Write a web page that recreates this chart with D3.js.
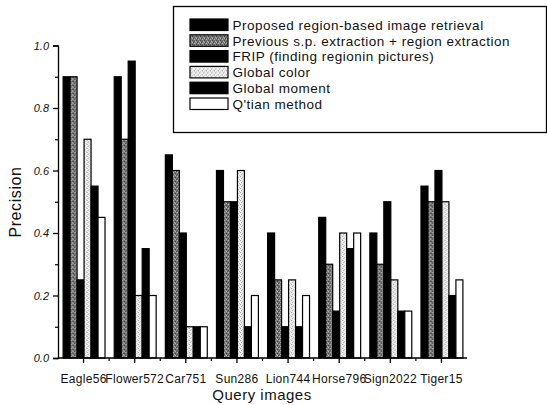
<!DOCTYPE html>
<html>
<head>
<meta charset="utf-8">
<script src="https://cdn.jsdelivr.net/npm/d3@7"></script>
<style>
  html, body { margin: 0; padding: 0; background: #fff; }
  svg { display: block; font-family: "Liberation Sans", Arial, sans-serif; }
</style>
</head>
<body>
<svg id="chart" width="547" height="405"></svg>
<script>
const categories = ["Eagle56", "Flower572", "Car751", "Sun286", "Lion744", "Horse796", "Sign2022", "Tiger15"];
const seriesNames = [
  "Proposed region-based image retrieval",
  "Previous s.p. extraction + region extraction",
  "FRIP (finding regionin pictures)",
  "Global color",
  "Global moment",
  "Q'tian method"
];
const proposed      = [0.90, 0.90, 0.65, 0.60, 0.40, 0.45, 0.40, 0.55];
const previous      = [0.90, 0.70, 0.60, 0.50, 0.25, 0.30, 0.30, 0.50];
const frip          = [0.25, 0.95, 0.40, 0.50, 0.10, 0.15, 0.50, 0.60];
const globalColor   = [0.70, 0.20, 0.10, 0.60, 0.25, 0.40, 0.25, 0.50];
const globalMoment  = [0.55, 0.35, 0.10, 0.10, 0.10, 0.35, 0.15, 0.20];
const qtian         = [0.45, 0.20, 0.10, 0.20, 0.20, 0.40, 0.15, 0.25];
const yTicks = [0.0, 0.2, 0.4, 0.6, 0.8, 1.0];
const yMinorTicks = [0.1, 0.3, 0.5, 0.7, 0.9];

const seriesValues = [proposed, previous, frip, globalColor, globalMoment, qtian];
const fills = ["#000", "url(#patPrev)", "#000", "url(#patColor)", "#000", "#fff"];

const svg = d3.select("#chart");
const defs = svg.append("defs");

// dark stipple pattern
const p1 = defs.append("pattern").attr("id", "patPrev").attr("patternUnits", "userSpaceOnUse")
  .attr("width", 4).attr("height", 4);
p1.append("rect").attr("width", 4).attr("height", 4).attr("fill", "#777");
[[0,0,"#b8b8b8"],[2,1,"#3a3a3a"],[1,2,"#b0b0b0"],[3,3,"#444"],[2,3,"#c4c4c4"],[0,2,"#555"]].forEach(([px,py,c]) =>
  p1.append("rect").attr("x", px).attr("y", py).attr("width", 1).attr("height", 1).attr("fill", c));

// light stipple pattern
const p2 = defs.append("pattern").attr("id", "patColor").attr("patternUnits", "userSpaceOnUse")
  .attr("width", 4).attr("height", 4);
p2.append("rect").attr("width", 4).attr("height", 4).attr("fill", "#efefef");
[[0,0,"#9a9a9a"],[2,1,"#bdbdbd"],[1,2,"#a5a5a5"],[3,3,"#c8c8c8"]].forEach(([px,py,c]) =>
  p2.append("rect").attr("x", px).attr("y", py).attr("width", 1).attr("height", 1).attr("fill", c));

const plotLeft = 58, plotRight = 467, plotTop = 45.5, plotBottom = 358;

const x0 = d3.scaleBand().domain(categories).range([plotLeft, plotRight]).paddingInner(0.18).paddingOuter(0.09);
const x1 = d3.scaleBand().domain(d3.range(seriesNames.length)).range([0, x0.bandwidth()]).padding(0);
const y = d3.scaleLinear().domain([0, 1]).range([plotBottom, plotTop]);

// bars
const groups = svg.append("g").selectAll("g").data(categories).join("g")
  .attr("transform", d => `translate(${x0(d)},0)`);
groups.selectAll("rect")
  .data((c, ci) => seriesValues.map((vals, si) => ({ si, v: vals[ci] })))
  .join("rect")
  .attr("x", d => x1(d.si) + 0.5)
  .attr("y", d => y(d.v))
  .attr("width", x1.bandwidth())
  .attr("height", d => y(0) - y(d.v))
  .attr("fill", d => fills[d.si])
  .attr("stroke", "#000")
  .attr("stroke-width", 1.2);

// y axis
const yAxis = svg.append("g").attr("transform", `translate(${plotLeft},0)`)
  .call(d3.axisLeft(y).tickValues(yTicks).tickFormat(d3.format(".1f")).tickSize(5).tickPadding(4));
yAxis.selectAll("text").attr("font-size", 11).attr("font-style", "italic").attr("fill", "#111");
yAxis.selectAll("line, path").attr("stroke", "#000").attr("stroke-width", 1.3);
svg.append("g").attr("transform", `translate(${plotLeft},0)`)
  .call(d3.axisLeft(y).tickValues(yMinorTicks).tickFormat("").tickSize(3))
  .call(g => g.select(".domain").remove())
  .selectAll("line").attr("stroke", "#000").attr("stroke-width", 1.2);

// x axis
const xAxis = svg.append("g").attr("transform", `translate(0,${plotBottom})`)
  .call(d3.axisBottom(x0).tickSize(5).tickPadding(11).tickSizeOuter(0));
xAxis.select(".domain").attr("d", `M${plotLeft},0H${plotRight}`);
xAxis.selectAll("text").attr("font-size", 12).attr("letter-spacing", 0.3).attr("fill", "#111");
xAxis.selectAll("line, path").attr("stroke", "#000").attr("stroke-width", 1.3);
// minor ticks between groups
const minorX = categories.slice(1).map(c => x0(c) - x0.step() * x0.paddingInner() / 2);
svg.append("g").selectAll("line").data(minorX).join("line")
  .attr("x1", d => d).attr("x2", d => d).attr("y1", plotBottom).attr("y2", plotBottom + 3)
  .attr("stroke", "#000").attr("stroke-width", 1.2);

// axis titles
svg.append("text").attr("x", 262).attr("y", 400).attr("text-anchor", "middle")
  .attr("font-size", 15).attr("letter-spacing", 0.5).attr("fill", "#111").text("Query images");
svg.append("text").attr("transform", "translate(21,202) rotate(-90)").attr("text-anchor", "middle")
  .attr("font-size", 16).attr("letter-spacing", 0.6).attr("fill", "#111").text("Precision");

// legend
const lg = svg.append("g");
lg.append("rect").attr("x", 173.5).attr("y", 6.5).attr("width", 373).attr("height", 126)
  .attr("fill", "#fff").attr("stroke", "#000").attr("stroke-width", 1.3);
const rows = lg.selectAll("g.row").data(seriesNames).join("g").attr("class", "row")
  .attr("transform", (d, i) => `translate(190,${19 + i * 15.8})`);
rows.append("rect").attr("width", 38).attr("height", 11.5)
  .attr("fill", (d, i) => fills[i]).attr("stroke", "#000").attr("stroke-width", 1.2);
rows.append("text").attr("x", 42.5).attr("y", 10.8).attr("font-size", 13.5).attr("letter-spacing", 0.5)
  .attr("fill", "#111").text(d => d);
</script>
</body>
</html>
